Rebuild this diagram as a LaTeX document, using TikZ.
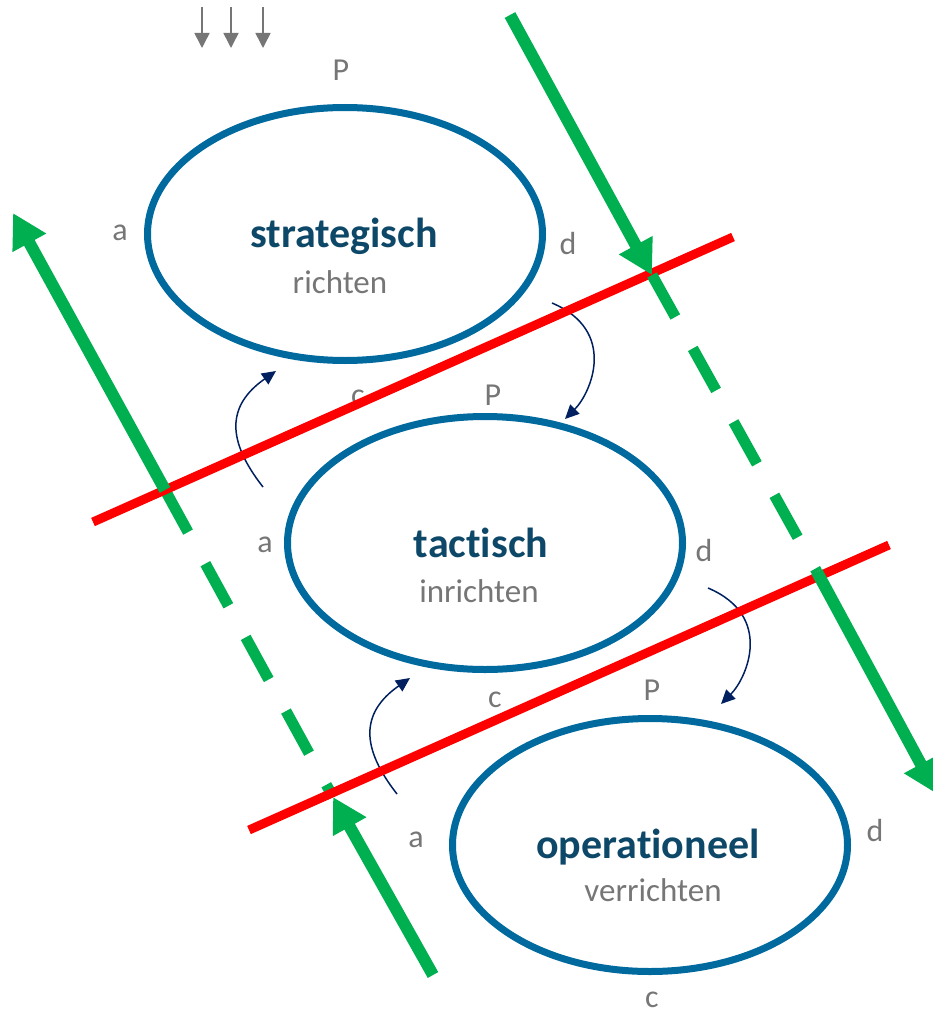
\documentclass[tikz,border=0pt]{standalone}
\usepackage{fontspec}
\setmainfont{Carlito}[RawFeature=-liga]
\usetikzlibrary{shapes.geometric,arrows.meta}

\definecolor{ringblue}{RGB}{0,106,158}
\definecolor{titleblue}{RGB}{14,72,104}
\definecolor{labelgray}{RGB}{118,118,118}
\definecolor{flowgreen}{RGB}{0,176,80}
\definecolor{arcnavy}{RGB}{0,32,96}
\definecolor{cutred}{RGB}{255,0,0}

\tikzset{
  ring/.style={ellipse, draw=ringblue, line width=7pt,
    minimum width=395pt, minimum height=253pt},
  heading/.style={anchor=base, text=titleblue,
    font=\fontsize{42}{42}\selectfont\bfseries},
  subhead/.style={anchor=base, text=labelgray, font=\fontsize{33}{33}\selectfont},
  letter/.style={text=labelgray, font=\fontsize{32}{32}\selectfont},
  cutline/.style={cutred, line width=9pt},
  greenarrow/.style={flowgreen, line width=12pt,
    -{Triangle[length=34pt,width=36pt]}},
  greendash/.style={flowgreen, line width=11pt, dash pattern=on 48pt off 36pt},
  swing/.style={arcnavy, line width=1.5pt, -{Triangle[length=14pt,width=13pt]}},
  inflow/.style={labelgray, line width=1.6pt, -{Triangle[length=15pt,width=15pt]}}
}

\begin{document}
\begin{tikzpicture}[x=1pt,y=-1pt]
  \useasboundingbox (0,0) rectangle (932,1014);

  % the three levels
  \node[ring] (s) at (345,234) {};
  \node[ring] (t) at (485,543) {};
  \node[ring] (o) at (650,845) {};

  \node[heading] (sh) at (344,247) {strategisch};
  \node[subhead] (ss) at (340,293) {richten};
  \node[heading] (th) at (481,557) {tactisch};
  \node[subhead] (ts) at (479,602) {inrichten};
  \node[heading] (oh) at (648,858) {operationeel};
  \node[subhead] (os) at (653,901) {verrichten};

  % corner letters
  \node[letter] (sP) at (341,70) {P};
  \node[letter] (sa) at (120,233) {a};
  \node[letter] (sd) at (568,243) {d};
  \node[letter] (sc) at (358,398) {c};
  \node[letter] (tP) at (493,395) {P};
  \node[letter] (ta) at (265,545) {a};
  \node[letter] (td) at (704,550) {d};
  \node[letter] (tc) at (495,700) {c};
  \node[letter] (oP) at (652,690) {P};
  \node[letter] (oa) at (416,840) {a};
  \node[letter] (od) at (875,830) {d};
  \node[letter] (oc) at (652,1000) {c};

  % input on top
  \foreach \x/\n in {202/1,231/2,263/3} {
    \coordinate (in\n) at (\x,7);
    \draw[inflow] (in\n) -- ++(0,41);
  }

  % turning arrows
  \coordinate (u1a) at (263,487);
  \coordinate (u1b) at (276,371);
  \coordinate (d1a) at (552,303);
  \coordinate (d1b) at (565,419);
  \coordinate (d2a) at (708,588);
  \coordinate (d2b) at (721,704);
  \coordinate (u2a) at (397,794);
  \coordinate (u2b) at (410,678);
  \draw[swing] (u1a) .. controls +(-36,-46) and +(-50,35) .. (u1b);
  \draw[swing] (d1a) .. controls +(66,28) and +(26,-26) .. (d1b);
  \draw[swing] (d2a) .. controls +(66,28) and +(26,-26) .. (d2b);
  \draw[swing] (u2a) .. controls +(-36,-46) and +(-50,35) .. (u2b);

  % green flow
  \coordinate (gl1) at (13,213);
  \coordinate (gl2) at (165,490);
  \coordinate (gl3) at (333,797);
  \coordinate (gl4) at (433,975);
  \coordinate (gr1) at (510,15);
  \coordinate (gr2) at (652,275);
  \coordinate (gr3) at (817,572);
  \coordinate (gr4) at (937,794);
  \draw[greendash] (gl2) -- (gl3);

  % borders between levels
  \coordinate (r1a) at (93,522);
  \coordinate (r1b) at (733,237);
  \coordinate (r2a) at (249,830);
  \coordinate (r2b) at (889,545);
  \draw[cutline] (r1a) -- (r1b);
  \draw[cutline] (r2a) -- (r2b);

  \draw[greendash] (gr2) -- (gr3);
  \draw[greenarrow] (gl2) -- (gl1);
  \draw[greenarrow] (gl4) -- (gl3);
  \draw[greenarrow] (gr1) -- (gr2);
  \draw[greenarrow] (gr3) -- (gr4);
\end{tikzpicture}
\end{document}
